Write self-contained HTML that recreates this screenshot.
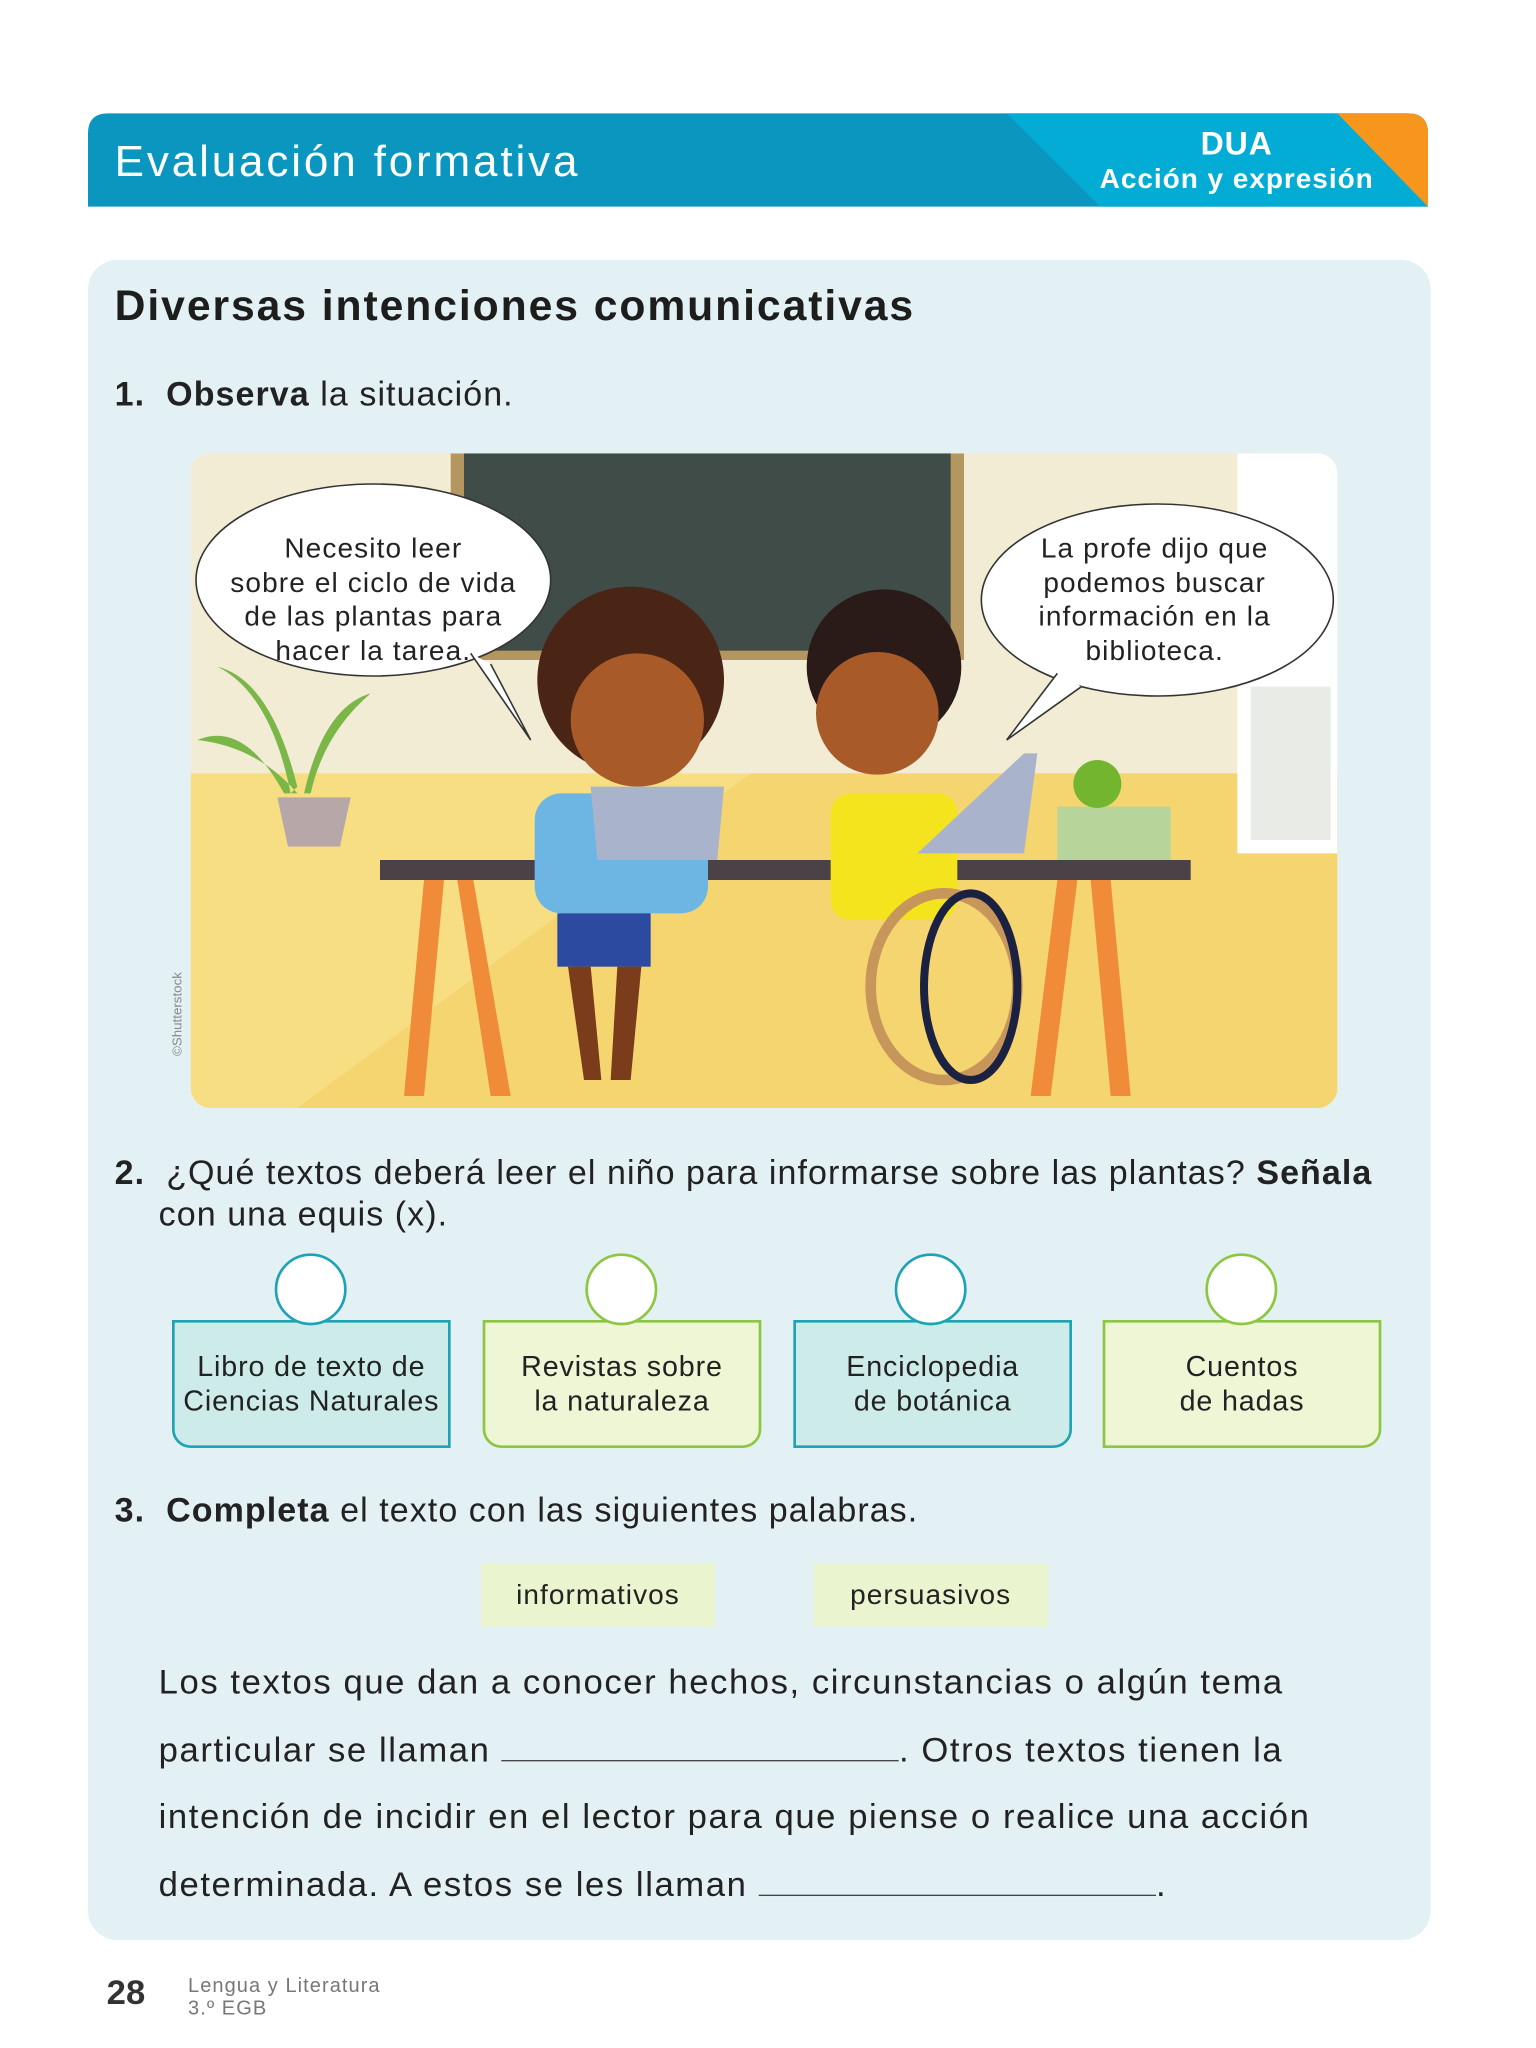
<!DOCTYPE html>
<html><head><meta charset="utf-8"><style>
html,body{margin:0;padding:0;background:#fff;}
#wrap{width:1152px;height:1536px;position:relative;transform:scale(1.33334);transform-origin:0 0;font-family:"Liberation Sans",sans-serif;color:#222;letter-spacing:0.05em;}
.a{position:absolute;white-space:nowrap;}
.box{position:absolute;top:990px;width:209px;height:96px;border:2px solid;border-radius:0 0 14px 14px;font-size:21.5px;line-height:26px;text-align:center;display:flex;align-items:center;justify-content:center;box-sizing:border-box;letter-spacing:0.03em;}
.t{background:#cdece9;border-color:#1ea2b4;border-radius:0 0 0 14px}
.g{background:#eef6d6;border-color:#8dc640;}
.c{position:absolute;top:940px;width:54px;height:54px;border-radius:50%;background:#fff;border:2px solid;box-sizing:border-box;}
.p{position:absolute;left:119px;font-size:26px;line-height:30px;white-space:nowrap;letter-spacing:0.045em;}
.u{display:inline-block;width:298px;border-bottom:1px solid #444;height:20px;vertical-align:baseline}
</style></head><body><div id="wrap">
<svg class="a" style="left:0;top:0" width="1152" height="170">
<path d="M66 100 Q66 85 81 85 L1056 85 Q1071 85 1071 100 L1071 155 L66 155Z" fill="#0b96c0"/>
<path d="M755 85 L1056 85 Q1071 85 1071 100 L1071 155 L825 155Z" fill="#02acd5"/>
<path d="M1003 85 L1056 85 Q1071 85 1071 100 L1071 155Z" fill="#f7961d"/>
</svg>
<div class="a" style="left:86px;top:102px;font-size:33px;color:#fff;letter-spacing:0.065em;">Evaluación formativa</div>
<div class="a" style="left:810px;top:96px;width:235px;text-align:center;color:#fff;font-weight:bold;font-size:24px;line-height:25px;letter-spacing:0.03em;">DUA<br><span style="font-size:21px">Acción y expresión</span></div>
<div class="a" style="left:66px;top:195px;width:1007px;height:1260px;background:#e3f1f5;border-radius:22px;"></div>
<div class="a" style="left:86px;top:211px;font-size:32px;font-weight:bold;color:#1d1d1b;letter-spacing:0.045em">Diversas intenciones comunicativas</div>
<div class="a" style="left:86px;top:282px;font-size:25.5px;"><b>1.&nbsp; Observa</b> la situación.</div>
<svg class="a" style="left:143px;top:340px" width="860" height="491">
<defs><clipPath id="cl"><rect width="860" height="491" rx="15"/></clipPath></defs>
<g clip-path="url(#cl)">
<rect width="860" height="491" fill="#f3ecd5"/>
<rect y="240" width="860" height="251" fill="#f8de82"/>
<path d="M80 491 L420 240 L860 240 L860 491Z" fill="#f5d570"/>
<rect x="195" y="0" width="385" height="155" fill="#b49660"/>
<rect x="205" y="0" width="365" height="148" fill="#3f4c48"/>
<rect x="785" y="0" width="75" height="300" fill="#fff"/>
<rect x="795" y="175" width="60" height="115" fill="#e9ebe6"/>
<path d="M70 255 Q40 200 5 215 Q50 220 80 255Z M85 255 Q100 190 135 180 Q100 210 90 255Z M80 250 Q60 170 20 160 Q60 180 75 255Z" fill="#7ab648"/>
<path d="M65 258 L120 258 L112 295 L73 295Z" fill="#b8a7a9"/>
<rect x="142" y="305" width="608" height="15" fill="#4b4248"/>
<path d="M175 320 L160 482 L175 482 L190 320Z M200 320 L225 482 L240 482 L212 320Z M650 320 L630 482 L645 482 L665 320Z M675 320 L690 482 L705 482 L690 320Z" fill="#f08b3a"/>
<circle cx="330" cy="170" r="70" fill="#4a2414"/>
<circle cx="335" cy="200" r="50" fill="#a85a28"/>
<rect x="258" y="255" width="130" height="90" rx="20" fill="#6db5e3"/>
<path d="M300 250 L400 250 L395 305 L305 305Z" fill="#a9b4cc"/>
<rect x="275" y="345" width="70" height="40" fill="#2c4aa0"/>
<path d="M283 385 L295 470 L308 470 L300 385Z M320 385 L315 470 L330 470 L338 385Z" fill="#7a3c1a"/>
<circle cx="520" cy="160" r="58" fill="#2a1a18"/>
<circle cx="515" cy="195" r="46" fill="#a85a28"/>
<rect x="480" y="255" width="95" height="95" rx="15" fill="#f4e41d"/>
<path d="M545 300 L625 300 L635 225 L625 225Z" fill="#a9b4cc"/>
<ellipse cx="565" cy="400" rx="55" ry="70" fill="none" stroke="#c7965a" stroke-width="8"/>
<ellipse cx="585" cy="400" rx="35" ry="70" fill="none" stroke="#1b2140" stroke-width="6"/>
<rect x="650" y="265" width="85" height="40" fill="#b7d49b"/>
<circle cx="680" cy="248" r="18" fill="#74b530"/>
<ellipse cx="137" cy="95" rx="133" ry="72" fill="#fff" stroke="#333" stroke-width="1.2"/>
<path d="M210 150 L255 215 L225 158" fill="#fff" stroke="#333" stroke-width="1.2"/>
<ellipse cx="725" cy="110" rx="132" ry="72" fill="#fff" stroke="#333" stroke-width="1.2"/>
<path d="M650 165 L612 215 L668 175" fill="#fff" stroke="#333" stroke-width="1.2"/>
</g>
</svg>
<div class="a" style="left:150px;top:399px;width:260px;text-align:center;font-size:21px;line-height:25.5px;letter-spacing:0.04em;">Necesito leer<br>sobre el ciclo de vida<br>de las plantas para<br>hacer la tarea.</div>
<div class="a" style="left:736px;top:399px;width:260px;text-align:center;font-size:21px;line-height:25.5px;letter-spacing:0.04em;">La profe dijo que<br>podemos buscar<br>información en la<br>biblioteca.</div>
<div class="a" style="left:128px;top:792px;font-size:10px;color:#888;transform:rotate(-90deg);transform-origin:0 0;letter-spacing:0">©Shutterstock</div>
<div class="a" style="left:86px;top:865px;font-size:25.5px;line-height:31px;"><b>2.</b>&nbsp; ¿Qué textos deberá leer el niño para informarse sobre las plantas? <b>Señala</b><br><span style="padding-left:33px">con una equis (x).</span></div>
<div class="box t" style="left:129px;">Libro de texto de<br>Ciencias Naturales</div>
<div class="box g" style="left:362px;">Revistas sobre<br>la naturaleza</div>
<div class="box t" style="left:595px;border-radius:0 0 14px 0">Enciclopedia<br>de botánica</div>
<div class="box g" style="left:827px;border-radius:0 0 14px 0">Cuentos<br>de hadas</div>
<div class="c" style="left:206px;border-color:#1ea2b4"></div>
<div class="c" style="left:439px;border-color:#8dc640"></div>
<div class="c" style="left:671px;border-color:#1ea2b4"></div>
<div class="c" style="left:904px;border-color:#8dc640"></div>
<div class="a" style="left:86px;top:1119px;font-size:25.5px;"><b>3.&nbsp; Completa</b> el texto con las siguientes palabras.</div>
<div class="a" style="left:361px;top:1173px;width:175px;height:47px;background:#eaf5d0;font-size:21px;line-height:47px;text-align:center;">informativos</div>
<div class="a" style="left:610px;top:1173px;width:176px;height:47px;background:#eaf5d0;font-size:21px;line-height:47px;text-align:center;">persuasivos</div>
<div class="p" style="top:1246px;">Los textos que dan a conocer hechos, circunstancias o algún tema</div>
<div class="p" style="top:1297px;">particular se llaman <span class="u"></span>. Otros textos tienen la</div>
<div class="p" style="top:1347px;">intención de incidir en el lector para que piense o realice una acción</div>
<div class="p" style="top:1398px;">determinada. A estos se les llaman <span class="u"></span>.</div>
<div class="a" style="left:80px;top:1479px;font-size:26px;font-weight:bold;color:#333;letter-spacing:0">28</div>
<div class="a" style="left:141px;top:1481px;font-size:15px;line-height:17px;color:#777">Lengua y Literatura<br>3.º EGB</div>
</div></body></html>
